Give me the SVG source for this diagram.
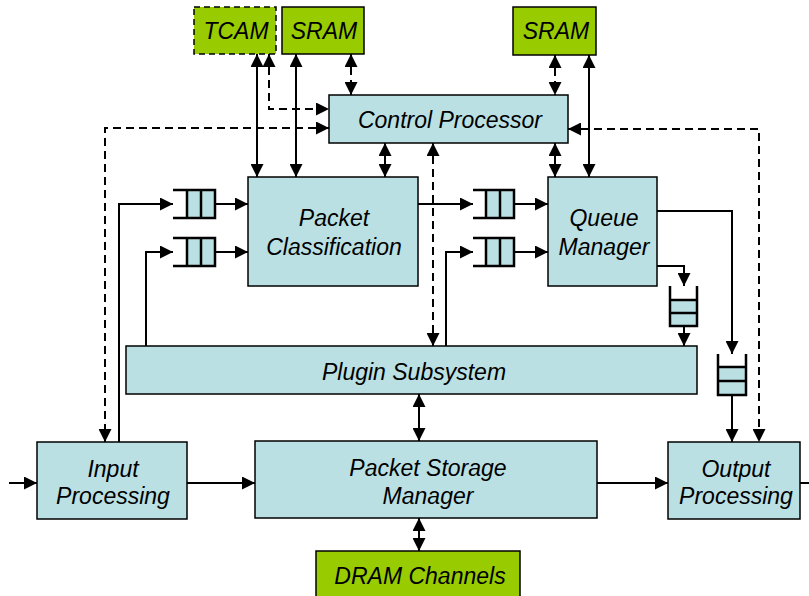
<svg xmlns="http://www.w3.org/2000/svg" width="809" height="596" viewBox="0 0 809 596">
  <defs>
    <marker id="arrow" viewBox="0 0 13 13" markerWidth="13" markerHeight="13" refX="13" refY="6.5" orient="auto-start-reverse" markerUnits="userSpaceOnUse">
      <path d="M0,0 L13,6.5 L0,13 z" fill="#000" stroke="none"/>
    </marker>
  </defs>
  <style>
    .block { fill: #BBE0E3; stroke: #000; stroke-width: 1.5; }
    .mem { fill: #99CC00; stroke: #000; stroke-width: 1.5; }
    .dashed-border { stroke-dasharray: 6 4; }
    .label { font-family: "Liberation Sans", Arial, sans-serif; font-style: italic; font-size: 23px; fill: #000; text-anchor: middle; }
    .wire { fill: none; stroke: #000; stroke-width: 2; }
    .dash { stroke-dasharray: 8 5; }
    .both { marker-start: url(#arrow); marker-end: url(#arrow); }
    .end { marker-end: url(#arrow); }
    .qfill { fill: #BBE0E3; stroke: none; }
    .qline { fill: none; stroke: #000; stroke-width: 2.5; }
  </style>
  <rect width="809" height="596" fill="#fff"/>

  <!-- connectors -->
  <g id="connectors">
    <!-- memories to classification / queue manager -->
    <path class="wire both" d="M257,54 V177"/>
    <path class="wire both" d="M296,54 V177"/>
    <path class="wire both" d="M589,55 V177"/>
    <!-- control paths (dashed) -->
    <path class="wire dash both" d="M269,54 V109 H329"/>
    <path class="wire dash both" d="M329,128 H105 V442"/>
    <path class="wire dash both" d="M351,54 V95"/>
    <path class="wire dash both" d="M555,55 V95"/>
    <path class="wire dash both" d="M433,143 V346"/>
    <path class="wire dash both" d="M568,129 H759 V442"/>
    <!-- control processor to blocks -->
    <path class="wire both" d="M385,143 V177"/>
    <path class="wire both" d="M555,143 V177"/>
    <!-- input queues to packet classification -->
    <path class="wire end" d="M119,442 V204 H173"/>
    <path class="wire end" d="M215,204 H248"/>
    <path class="wire end" d="M146,346 V252 H173"/>
    <path class="wire end" d="M215,252 H248"/>
    <!-- queues to queue manager -->
    <path class="wire end" d="M418,204 H473"/>
    <path class="wire end" d="M514,204 H548"/>
    <path class="wire end" d="M446,346 V252 H473"/>
    <path class="wire end" d="M514,252 H548"/>
    <!-- queue manager outputs -->
    <path class="wire end" d="M657,211 H732 V354"/>
    <path class="wire end" d="M732,395 V442"/>
    <path class="wire end" d="M657,266 H684 V286"/>
    <path class="wire end" d="M684,326 V346"/>
    <!-- storage -->
    <path class="wire both" d="M419,394 V441"/>
    <path class="wire both" d="M419,518 V551"/>
    <!-- main data path -->
    <path class="wire end" d="M9,483 H37"/>
    <path class="wire end" d="M187,483 H255"/>
    <path class="wire end" d="M597,483 H668"/>
    <path class="wire" d="M800,483 H809"/>
  </g>

  <!-- queues -->
  <g id="queue-pc-1">
    <rect class="qfill" x="187" y="190" width="28" height="28"/>
    <path class="qline" d="M173,190 H215 V218 H173 M187,190 V218 M201,190 V218"/>
  </g>
  <g id="queue-pc-2">
    <rect class="qfill" x="187" y="238" width="28" height="28"/>
    <path class="qline" d="M173,238 H215 V266 H173 M187,238 V266 M201,238 V266"/>
  </g>
  <g id="queue-qm-1">
    <rect class="qfill" x="486" y="190" width="28" height="28"/>
    <path class="qline" d="M473,190 H514 V218 H473 M486,190 V218 M500,190 V218"/>
  </g>
  <g id="queue-qm-2">
    <rect class="qfill" x="486" y="238" width="28" height="28"/>
    <path class="qline" d="M473,238 H514 V266 H473 M486,238 V266 M500,238 V266"/>
  </g>
  <g id="queue-plugin">
    <rect class="qfill" x="670" y="300" width="27" height="26"/>
    <path class="qline" d="M670,286 V326 H697 V286 M670,300 H697 M670,313 H697"/>
  </g>
  <g id="queue-out">
    <rect class="qfill" x="718" y="367" width="28" height="28"/>
    <path class="qline" d="M718,354 V395 H746 V354 M718,367 H746 M718,381 H746"/>
  </g>

  <!-- nodes -->
  <g id="tcam">
    <rect class="mem dashed-border" x="194" y="7" width="82" height="47"/>
    <text class="label" x="236" y="39">TCAM</text>
  </g>
  <g id="sram-1">
    <rect class="mem" x="282" y="7" width="82" height="47"/>
    <text class="label" x="324" y="39">SRAM</text>
  </g>
  <g id="sram-2">
    <rect class="mem" x="513" y="7" width="83" height="48"/>
    <text class="label" x="556" y="39">SRAM</text>
  </g>
  <g id="control-processor">
    <rect class="block" x="329" y="95" width="239" height="48"/>
    <text class="label" x="450" y="128">Control Processor</text>
  </g>
  <g id="packet-classification">
    <rect class="block" x="248" y="177" width="170" height="109"/>
    <text class="label" x="334" y="226">Packet</text>
    <text class="label" x="334" y="255">Classification</text>
  </g>
  <g id="queue-manager">
    <rect class="block" x="548" y="177" width="109" height="109"/>
    <text class="label" x="604" y="226">Queue</text>
    <text class="label" x="604" y="255">Manager</text>
  </g>
  <g id="plugin-subsystem">
    <rect class="block" x="126" y="346" width="571" height="48"/>
    <text class="label" x="414" y="380">Plugin Subsystem</text>
  </g>
  <g id="input-processing">
    <rect class="block" x="37" y="442" width="150" height="77"/>
    <text class="label" x="113" y="477">Input</text>
    <text class="label" x="113" y="504">Processing</text>
  </g>
  <g id="packet-storage-manager">
    <rect class="block" x="255" y="441" width="342" height="77"/>
    <text class="label" x="428" y="476">Packet Storage</text>
    <text class="label" x="428" y="504">Manager</text>
  </g>
  <g id="output-processing">
    <rect class="block" x="668" y="442" width="132" height="77"/>
    <text class="label" x="736" y="477">Output</text>
    <text class="label" x="736" y="504">Processing</text>
  </g>
  <g id="dram-channels">
    <rect class="mem" x="316" y="551" width="204" height="50"/>
    <text class="label" x="420" y="584">DRAM Channels</text>
  </g>
</svg>
